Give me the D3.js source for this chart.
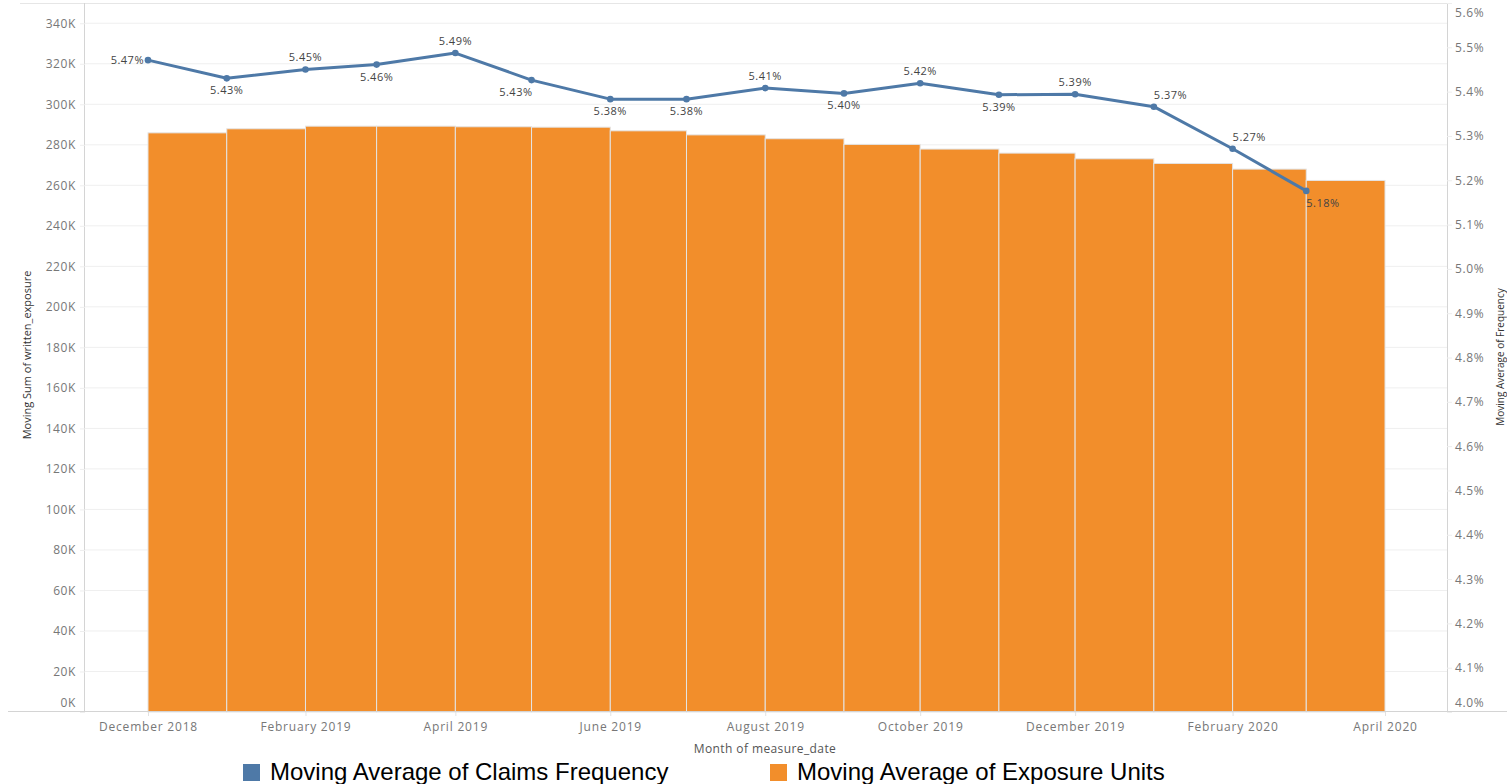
<!DOCTYPE html>
<html>
<head>
<meta charset="utf-8">
<script src="https://cdn.jsdelivr.net/npm/d3@7"></script>
<style>
  html, body { margin: 0; padding: 0; background: #fff; }
  svg { display: block; }
</style>
</head>
<body>
<svg id="chart" width="1507" height="784"></svg>
<script>
// ---------- data ----------
const months = ['2018-12-01','2019-01-01','2019-02-01','2019-03-01','2019-04-01','2019-05-01',
  '2019-06-01','2019-07-01','2019-08-01','2019-09-01','2019-10-01','2019-11-01',
  '2019-12-01','2020-01-01','2020-02-01','2020-03-01'];
const exposureUnits = [285900, 287900, 289200, 289200, 288900, 288700, 286900, 284900,
  283000, 280200, 277900, 275900, 273100, 270800, 268000, 262400];
const claimsFrequency = [5.471, 5.430, 5.450, 5.461, 5.487, 5.426, 5.383, 5.383,
  5.408, 5.396, 5.419, 5.393, 5.394, 5.366, 5.271, 5.176];
const labelPlacement = ['L','B','A','B','A','BE','B','B','A','B','A','B','A','AS','AS','BS'];
const xTickMonths = ['2018-12-01','2019-02-01','2019-04-01','2019-06-01','2019-08-01',
  '2019-10-01','2019-12-01','2020-02-01','2020-04-01'];
const leftTicks = [0,20000,40000,60000,80000,100000,120000,140000,160000,180000,200000,
  220000,240000,260000,280000,300000,320000,340000];
const rightTicks = [4.0,4.1,4.2,4.3,4.4,4.5,4.6,4.7,4.8,4.9,5.0,5.1,5.2,5.3,5.4,5.5,5.6];
const legendItems = ['Moving Average of Claims Frequency', 'Moving Average of Exposure Units'];
const titles = { x: 'Month of measure_date', yLeft: 'Moving Sum of written_exposure', yRight: 'Moving Average of Frequency' };

// ---------- layout ----------
const svg = d3.select('#chart');
const plot = { left: 85, right: 1447, top: 3, bottom: 712 };
const colorLine = '#4e79a7', colorBar = '#f28e2b';
const parse = d3.timeParse('%Y-%m-%d');
const dates = months.map(parse);

// time scale anchored so Dec 2018 -> 148, Apr 2020 -> 1385
const anchor = d3.scaleTime().domain([parse('2018-12-01'), parse('2020-04-01')]).range([148, 1385]);
const x = d3.scaleTime().domain([anchor.invert(plot.left), anchor.invert(plot.right)]).range([plot.left, plot.right]);
const yL = d3.scaleLinear().domain([0, 350000]).range([plot.bottom, plot.top]);
const yR = d3.scaleLinear().domain([4.0, 5.6]).range([plot.bottom, plot.top]);

const tickFont = "'Open Sans', sans-serif";

// gridlines
svg.append('g').selectAll('line').data(leftTicks.filter(d => d > 0)).join('line')
  .attr('x1', plot.left).attr('x2', plot.right)
  .attr('y1', d => yL(d)).attr('y2', d => yL(d))
  .attr('stroke', '#efefef').attr('stroke-width', 1);

// bars
svg.append('g').selectAll('rect').data(dates).join('rect')
  .attr('x', d => x(d))
  .attr('width', d => x(d3.timeMonth.offset(d, 1)) - x(d))
  .attr('y', (d, i) => yL(exposureUnits[i]))
  .attr('height', (d, i) => yL(0) - yL(exposureUnits[i]))
  .attr('fill', colorBar)
  .attr('stroke', '#e4e4e4').attr('stroke-width', 1);

// frame lines
const frame = svg.append('g').attr('stroke', '#d4d4d4').attr('stroke-width', 1).attr('shape-rendering', 'crispEdges');
frame.append('line').attr('x1', 8).attr('x2', 1507).attr('y1', plot.bottom - 0.5).attr('y2', plot.bottom - 0.5);
frame.append('line').attr('x1', 20).attr('x2', plot.right).attr('y1', plot.top).attr('y2', plot.top).attr('stroke', '#e6e6e6');
frame.append('line').attr('x1', plot.left - 0.5).attr('x2', plot.left - 0.5).attr('y1', plot.top).attr('y2', plot.bottom);
frame.append('line').attr('x1', plot.right + 0.5).attr('x2', plot.right + 0.5).attr('y1', plot.top).attr('y2', plot.bottom);

// left axis
const gL = svg.append('g').attr('transform', `translate(${plot.left},0)`)
  .call(d3.axisLeft(yL).tickValues(leftTicks).tickFormat(d => (d / 1000) + 'K').tickSize(5).tickPadding(4));
gL.select('.domain').remove();
gL.selectAll('.tick line').attr('stroke', '#eeeeee');
gL.selectAll('.tick text')
  .attr('font-family', tickFont).attr('font-size', 12).attr('fill', '#777')
  .attr('letter-spacing', '0.6px')
  .attr('dy', d => { const y = yL(d); return (Math.min(y, 702) - y + 4) + 'px'; });

// right axis
const gR = svg.append('g').attr('transform', `translate(${plot.right},0)`)
  .call(d3.axisRight(yR).tickValues(rightTicks).tickFormat(d => d.toFixed(1) + '%').tickSize(5).tickPadding(3));
gR.select('.domain').remove();
gR.selectAll('.tick line').attr('stroke', '#eeeeee');
gR.selectAll('.tick text')
  .attr('font-family', tickFont).attr('font-size', 12).attr('fill', '#777')
  .attr('letter-spacing', '0.6px')
  .attr('dy', d => { const y = yR(d); return (Math.max(Math.min(y, 702), 12) - y + 4) + 'px'; });

// x axis
const gX = svg.append('g').attr('transform', `translate(0,${plot.bottom})`)
  .call(d3.axisBottom(x).tickValues(xTickMonths.map(parse)).tickFormat(d3.timeFormat('%B %Y')).tickSize(4).tickPadding(6));
gX.select('.domain').remove();
gX.selectAll('.tick line').attr('stroke', '#e2e2e2');
gX.selectAll('.tick text')
  .attr('font-family', tickFont).attr('font-size', 12).attr('fill', '#777')
  .attr('letter-spacing', '0.8px');

// line
const line = d3.line().x((d, i) => x(dates[i])).y(d => yR(d));
svg.append('path').datum(claimsFrequency)
  .attr('d', line).attr('fill', 'none').attr('stroke', colorLine).attr('stroke-width', 3)
  .attr('stroke-linejoin', 'round');
svg.append('g').selectAll('circle').data(claimsFrequency).join('circle')
  .attr('cx', (d, i) => x(dates[i])).attr('cy', d => yR(d)).attr('r', 3.3).attr('fill', colorLine);

// data labels
svg.append('g').selectAll('text').data(claimsFrequency).join('text')
  .attr('font-family', tickFont).attr('font-size', 11).attr('fill', '#444')
  .attr('letter-spacing', '0.5px')
  .each(function (d, i) {
    const p = labelPlacement[i];
    const px = x(dates[i]), py = yR(d);
    let tx = px, ty = py, anchorPos = 'middle';
    if (p === 'L') { tx = px - 4; ty = py + 4; anchorPos = 'end'; }
    else if (p[0] === 'A') { ty = py - 8; }
    else if (p[0] === 'B') { ty = py + 16; }
    if (p === 'BE') { anchorPos = 'end'; tx = px + 1; }
    if (p === 'AS' || p === 'BS') { anchorPos = 'start'; tx = px; }
    d3.select(this).attr('x', tx).attr('y', ty).attr('text-anchor', anchorPos)
      .text(d.toFixed(2) + '%');
  });

// axis titles
svg.append('text').attr('x', 765).attr('y', 753).attr('text-anchor', 'middle')
  .attr('font-family', tickFont).attr('font-size', 12).attr('fill', '#555').attr('letter-spacing', '0.4px')
  .text(titles.x);
svg.append('text').attr('transform', 'translate(31,355) rotate(-90)').attr('text-anchor', 'middle')
  .attr('font-family', tickFont).attr('font-size', 11).attr('fill', '#333')
  .text(titles.yLeft);
svg.append('text').attr('transform', 'translate(1504,357) rotate(-90)').attr('text-anchor', 'middle')
  .attr('font-family', tickFont).attr('font-size', 10).attr('fill', '#333')
  .text(titles.yRight);

// legend
const legend = svg.append('g');
const legendX = [243, 770];
const legendColors = [colorLine, colorBar];
legendItems.forEach((t, i) => {
  legend.append('rect').attr('x', legendX[i]).attr('y', 764).attr('width', 17).attr('height', 17)
    .attr('fill', legendColors[i]);
  legend.append('text').attr('x', legendX[i] + 27).attr('y', 780)
    .attr('font-family', "'Liberation Sans', Arial, sans-serif").attr('font-size', 24).attr('fill', '#000')
    .text(t);
});
</script>
</body>
</html>
